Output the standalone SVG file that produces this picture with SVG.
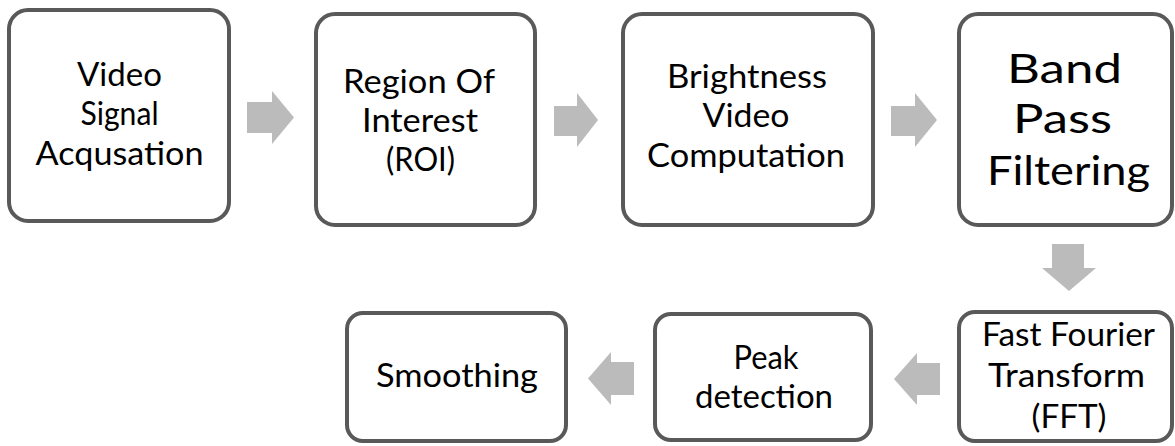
<svg xmlns="http://www.w3.org/2000/svg" width="1175" height="446" viewBox="0 0 1175 446">
<style>
.box{fill:#ffffff;stroke:#595959;stroke-width:4}
.arr{fill:#bbbbbb}
text{font-family:Lato,"Open Sans","Liberation Sans",sans-serif;font-size:32px;fill:#000000;text-anchor:middle}
.big{font-size:41px}
</style>
<rect width="1175" height="446" fill="#ffffff"/>
<g id="connectors">
<polygon class="arr" points="247,102 272,102 272,91 294,117.5 272,144 272,133 247,133"/>
<polygon class="arr" points="554,106 577,106 577,93 598,120 577,147 577,136 554,136"/>
<polygon class="arr" points="891,106 915,106 915,93 937,120 915,147 915,136 891,136"/>
<polygon class="arr" points="1052,244 1084,244 1084,268 1096,268 1069,291 1042,268 1052,268"/>
<polygon class="arr" points="940,363 917,363 917,353 894,379 917,405 917,395 940,395"/>
<polygon class="arr" points="634,362 611,362 611,352 588,378.5 611,405 611,395 634,395"/>
</g>
<g id="video-signal">
<rect class="box" x="9" y="10" width="220" height="211" rx="19"/>
<text x="119.5" y="86" textLength="85" lengthAdjust="spacingAndGlyphs">Video</text>
<text x="119.5" y="125" textLength="78" lengthAdjust="spacingAndGlyphs">Signal</text>
<text x="119.5" y="165" textLength="168" lengthAdjust="spacingAndGlyphs">Acqusation</text>
</g>
<g id="roi">
<rect class="box" x="316" y="14" width="219" height="211" rx="19"/>
<text x="419" y="93" textLength="152" lengthAdjust="spacingAndGlyphs">Region Of</text>
<text x="420" y="132" textLength="116" lengthAdjust="spacingAndGlyphs">Interest</text>
<text x="420.5" y="171" textLength="69" lengthAdjust="spacingAndGlyphs">(ROI)</text>
</g>
<g id="brightness">
<rect class="box" x="623" y="14" width="250" height="211" rx="19"/>
<text x="747" y="88" textLength="160" lengthAdjust="spacingAndGlyphs">Brightness</text>
<text x="746" y="127" textLength="87" lengthAdjust="spacingAndGlyphs">Video</text>
<text x="746" y="167" textLength="198" lengthAdjust="spacingAndGlyphs">Computation</text>
</g>
<g id="band-pass">
<rect class="box" x="959" y="14" width="213" height="211" rx="19"/>
<text class="big" x="1064.5" y="83" textLength="115" lengthAdjust="spacingAndGlyphs">Band</text>
<text class="big" x="1062.5" y="133" textLength="99" lengthAdjust="spacingAndGlyphs">Pass</text>
<text class="big" x="1068.5" y="185" textLength="163" lengthAdjust="spacingAndGlyphs">Filtering</text>
</g>
<g id="fft">
<rect class="box" x="959" y="312" width="213" height="129" rx="16"/>
<text x="1068.5" y="346" textLength="173" lengthAdjust="spacingAndGlyphs">Fast Fourier</text>
<text x="1066.5" y="387" textLength="157" lengthAdjust="spacingAndGlyphs">Transform</text>
<text x="1069" y="428" textLength="75" lengthAdjust="spacingAndGlyphs">(FFT)</text>
</g>
<g id="peak">
<rect class="box" x="655" y="314" width="216" height="126" rx="16"/>
<text x="766" y="369" textLength="65" lengthAdjust="spacingAndGlyphs">Peak</text>
<text x="764" y="408" textLength="138" lengthAdjust="spacingAndGlyphs">detection</text>
</g>
<g id="smoothing">
<rect class="box" x="347" y="313" width="219" height="128" rx="16"/>
<text x="457" y="387" textLength="162" lengthAdjust="spacingAndGlyphs">Smoothing</text>
</g>
</svg>
